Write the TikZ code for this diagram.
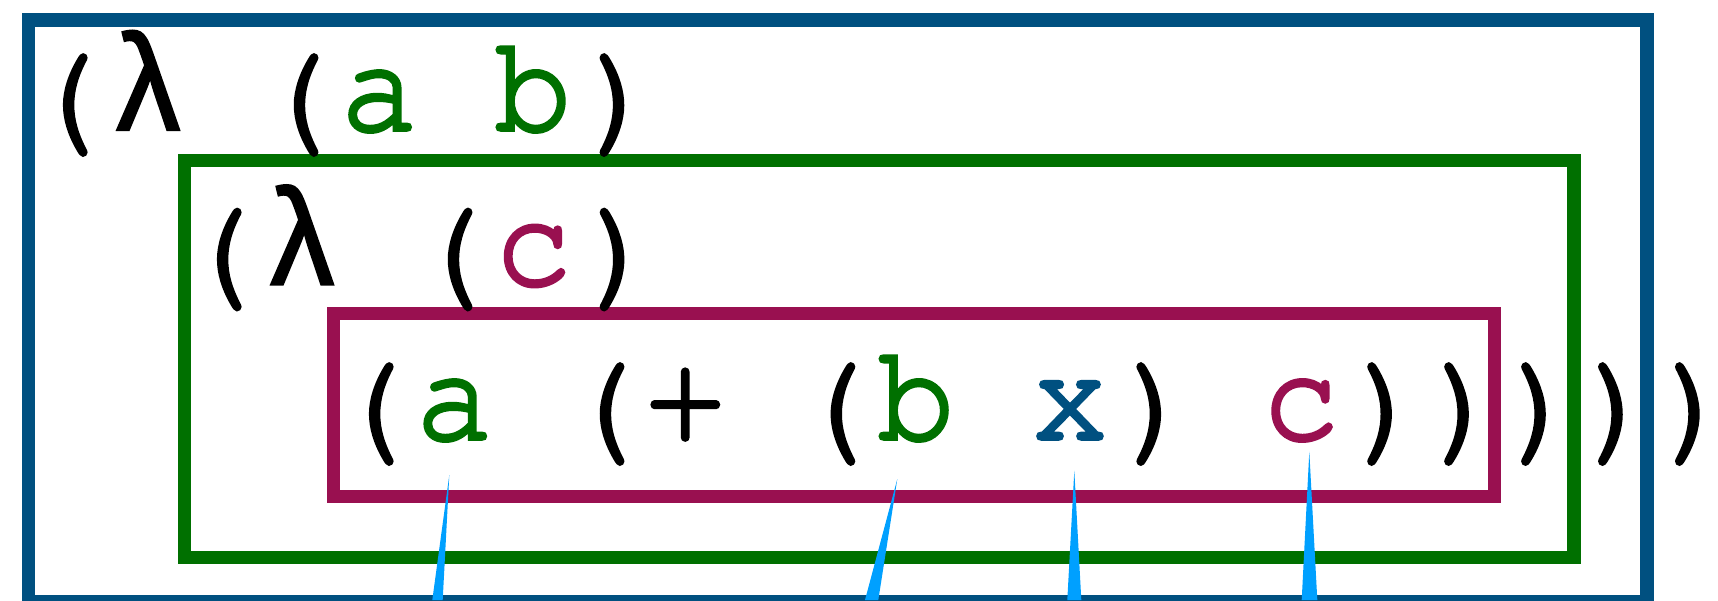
\documentclass[tikz,border=0pt]{standalone}
\usepackage{fontspec}
\newfontfamily\codefont[FakeStretch=0.934,FakeBold=2.6]{TeX Gyre Cursor}
\newfontfamily\lamfont[FakeStretch=0.934,FakeBold=1.5]{Liberation Mono}
\newcommand{\lam}{{\lamfont λ}}
\newcommand{\op}{\raisebox{-8pt}{\hspace{-6pt}(\hspace{6pt}}}
\newcommand{\cp}{\raisebox{-8pt}{\hspace{11pt})\hspace{-11pt}}}
\definecolor{lblue}{RGB}{0,80,128}
\definecolor{lgreen}{RGB}{0,112,0}
\definecolor{lpurple}{RGB}{153,16,80}
\definecolor{lcyan}{RGB}{0,160,255}
\tikzset{
  box/.style={line width=13.3pt, line join=miter},
  code/.style={inner sep=0pt, outer sep=0pt, anchor=base west,
    font=\codefont\fontsize{137.3}{137.3}\selectfont},
  wedge/.style={fill=lcyan, draw=none}
}
\begin{document}
\begin{tikzpicture}[x=1pt,y=-1pt]
\useasboundingbox (0,0) rectangle (1718,600);
% nested scope boxes
\draw[box, lblue]   (28.3,20)    rectangle (1647,601.7);
\draw[box, lgreen]  (184.8,160.5) rectangle (1574,557.7);
\draw[box, lpurple] (333.3,313.7) rectangle (1494.5,496.7);
% code lines
\node[code] (l1) at (33,130) {\op\lam{} \op\textcolor{lgreen}{a b}\cp};
\node[code] (l2) at (187,284.5) {\op\lam{} \op\textcolor{lpurple}{c}\cp};
\node[code] (l3) at (339,439) {\op\textcolor{lgreen}{a} \op+ \op\textcolor{lgreen}{b} \textcolor{lblue}{x}\cp{} \textcolor{lpurple}{c}\cp\cp\cp\cp\rlap{\cp}};
% pointer wedges
\coordinate (w1) at (449.3,475);
\coordinate (w1a) at (432.3,600);
\coordinate (w1b) at (442.7,600);
\coordinate (w2) at (897.3,479);
\coordinate (w2a) at (865,600);
\coordinate (w2b) at (878.3,600);
\coordinate (w3) at (1074.3,470.7);
\coordinate (w3a) at (1067.3,600);
\coordinate (w3b) at (1081.3,600);
\coordinate (w4) at (1309.3,451.7);
\coordinate (w4a) at (1301.7,600);
\coordinate (w4b) at (1317.3,600);
\fill[wedge] (w1) -- (w1a) -- (w1b) -- cycle;
\fill[wedge] (w2) -- (w2a) -- (w2b) -- cycle;
\fill[wedge] (w3) -- (w3a) -- (w3b) -- cycle;
\fill[wedge] (w4) -- (w4a) -- (w4b) -- cycle;
\end{tikzpicture}
\end{document}
